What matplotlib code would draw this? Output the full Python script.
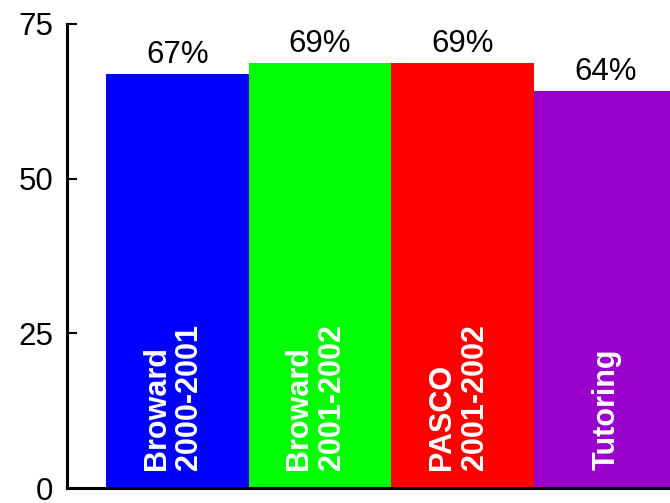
import matplotlib
matplotlib.use('Agg')
import matplotlib.pyplot as plt

groups = ['Broward\n2000-2001', 'Broward\n2001-2002', 'PASCO\n2001-2002', 'Tutoring']
values = [66.9, 68.7, 68.7, 64.1]
colors = ['#0000FF', '#00FF00', '#FF0000', '#9900CC']
yticks = [0, 25, 50, 75]

plt.rcParams['font.family'] = ['Liberation Sans', 'DejaVu Sans']

fig = plt.figure(figsize=(6.7, 5.03), dpi=100)
ax = fig.add_axes([0.1, 0.0298, 0.9, 0.9225])

pos = list(range(len(values)))
ax.bar(pos, values, width=1.0, color=colors, linewidth=0)

for x, v, g in zip(pos, values, groups):
    ax.annotate(f"{v:.0f}%", (x, v), xytext=(0, 3), textcoords='offset points',
                ha='center', va='bottom', fontsize=22.5)
    # two-line labels sit a little left of the bar centre
    dx = -0.03 if '\n' in g else 0.01
    ax.text(x + dx, 2.9, g, rotation=90, ha='center', va='bottom', multialignment='left',
            color='white', fontsize=22, fontweight='bold', linespacing=1.12)

ax.set_xlim(-0.773, 3.452)
ax.set_ylim(0, 75)
ax.set_yticks(yticks)
ax.set_xticks([])
ax.tick_params(axis='y', direction='in', length=7, width=1.5, pad=10, labelsize=22.5)
for s in ['top', 'right']:
    ax.spines[s].set_visible(False)
for s in ['left', 'bottom']:
    ax.spines[s].set_linewidth(2.2)
    ax.spines[s].set_zorder(3)
ax.patch.set_alpha(0)

fig.savefig('out.png', dpi=100)
